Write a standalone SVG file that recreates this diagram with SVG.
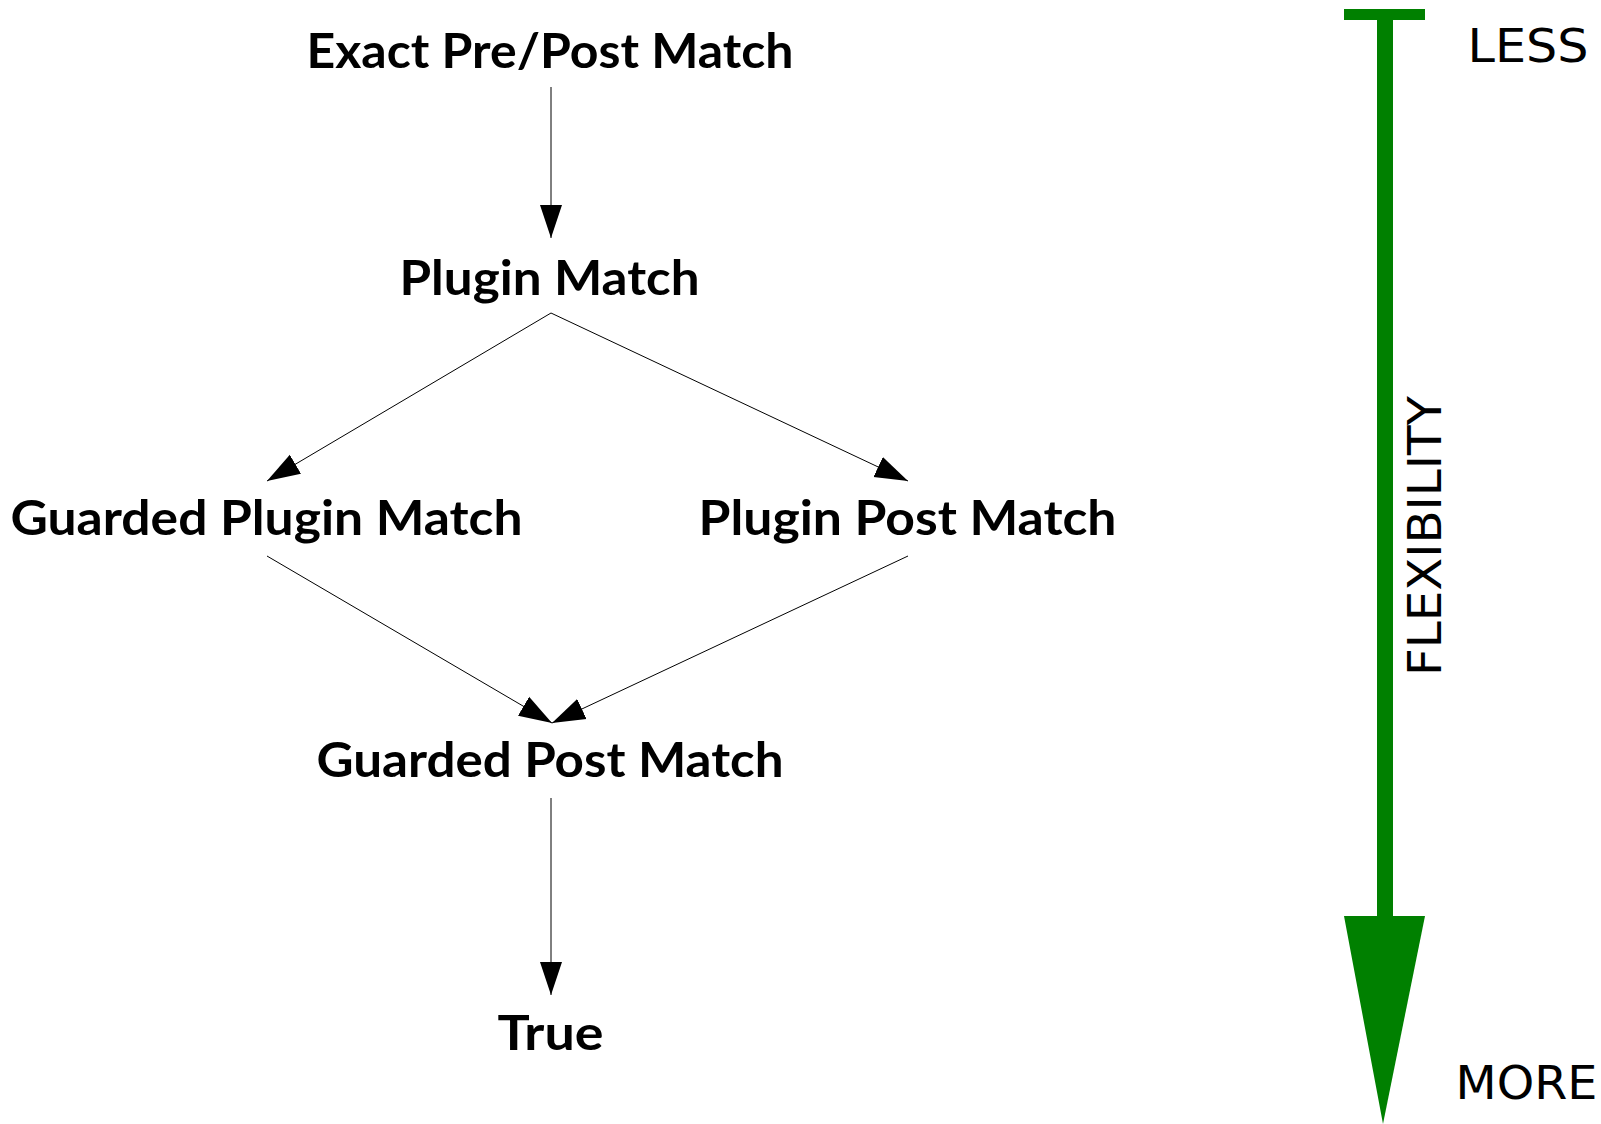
<svg xmlns="http://www.w3.org/2000/svg" width="1601" height="1124" viewBox="0 0 1601 1124">
  <style>
    .node { font-family: Lato, "Liberation Sans", sans-serif; font-weight: 700; font-size: 48px; fill: #000; text-anchor: middle; }
    .scale { font-family: "DejaVu Sans", "Liberation Sans", sans-serif; font-weight: 400; font-size: 46.5px; fill: #000; text-anchor: middle; }
    .edge { stroke: #000; stroke-width: 1; fill: none; marker-end: url(#arrow); }
    .bar { fill: #008000; }
  </style>
  <defs>
    <marker id="arrow" markerUnits="userSpaceOnUse" markerWidth="34" markerHeight="24" viewBox="0 0 34 24" refX="33" refY="12" orient="auto">
      <path d="M0,1 L33,12 L0,23 Z" fill="#000"/>
    </marker>
  </defs>
  <rect width="1601" height="1124" fill="#fff"/>

  <!-- flow connectors -->
  <g id="connectors">
    <line class="edge" x1="551" y1="87" x2="551" y2="238"/>
    <line class="edge" x1="551" y1="313" x2="267" y2="481"/>
    <line class="edge" x1="551" y1="313" x2="908" y2="481"/>
    <line class="edge" x1="267" y1="556" x2="552" y2="723"/>
    <line class="edge" x1="908" y1="556" x2="552" y2="723"/>
    <line class="edge" x1="551" y1="798" x2="551" y2="995"/>
  </g>

  <!-- match kinds -->
  <g id="exact-pre-post"><text class="node" x="550" y="68" textLength="487" lengthAdjust="spacingAndGlyphs">Exact Pre/Post Match</text></g>
  <g id="plugin"><text class="node" x="549.5" y="295" textLength="300" lengthAdjust="spacingAndGlyphs">Plugin Match</text></g>
  <g id="guarded-plugin"><text class="node" x="266.5" y="535" textLength="512" lengthAdjust="spacingAndGlyphs">Guarded Plugin Match</text></g>
  <g id="plugin-post"><text class="node" x="907.5" y="535" textLength="418" lengthAdjust="spacingAndGlyphs">Plugin Post Match</text></g>
  <g id="guarded-post"><text class="node" x="550" y="777" textLength="467" lengthAdjust="spacingAndGlyphs">Guarded Post Match</text></g>
  <g id="true"><text class="node" x="550.5" y="1050" textLength="106" lengthAdjust="spacingAndGlyphs">True</text></g>

  <!-- flexibility scale -->
  <g id="flexibility-scale">
    <rect class="bar" x="1344" y="9" width="81" height="11"/>
    <rect class="bar" x="1377" y="9" width="16" height="910"/>
    <polygon class="bar" points="1344,916 1425,916 1383,1124"/>
    <text class="scale" x="1528" y="62" textLength="121" lengthAdjust="spacingAndGlyphs">LESS</text>
    <text class="scale" x="1526.5" y="1099" textLength="142" lengthAdjust="spacingAndGlyphs">MORE</text>
    <text class="scale" transform="translate(1441,536) rotate(-90)" textLength="280" lengthAdjust="spacingAndGlyphs">FLEXIBILITY</text>
  </g>
</svg>
